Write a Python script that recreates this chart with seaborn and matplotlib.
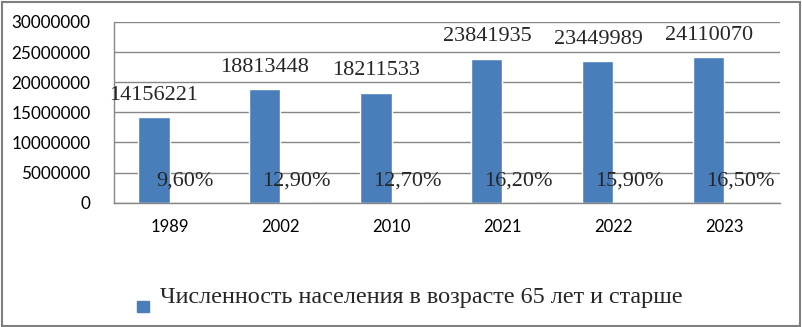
import matplotlib
matplotlib.use("Agg")
import matplotlib.pyplot as plt
import matplotlib.patches as mpatches
import seaborn as sns
import pandas as pd

years = ["1989", "2002", "2010", "2021", "2022", "2023"]
population = [14156221, 18813448, 18211533, 23841935, 23449989, 24110070]
share_pct = [9.60, 12.90, 12.70, 16.20, 15.90, 16.50]
share_labels = ["9,60%", "12,90%", "12,70%", "16,20%", "15,90%", "16,50%"]
legend_label = "Численность населения в возрасте 65 лет и старше"
yticks = [0, 5000000, 10000000, 15000000, 20000000, 25000000, 30000000]

sns.set_style("white")
plt.rcParams["font.family"] = ["Lato", "DejaVu Sans"]

df = pd.DataFrame({
    "year": years * 2,
    "series": ["pop"] * len(years) + ["share"] * len(years),
    "value": population + [s / 100 for s in share_pct],
})

fig = plt.figure(figsize=(8.03, 3.27), dpi=100)
ax = fig.add_axes([114 / 803, 1 - 202.7 / 327, 666 / 803, (202.7 - 22) / 327])

blue = "#4A7EBB"
sns.barplot(data=df, x="year", y="value", hue="series", palette=[blue, blue],
            width=0.56, legend=False, ax=ax, saturation=1)

gray = "#868686"
ax.set_xlim(-0.5, len(years) - 0.5)
ax.set_ylim(0, 30000000)
ax.set_yticks(yticks)
ax.set_yticklabels([str(v) for v in yticks], fontsize=12.3, color="#000000")
ax.set_xticks(range(len(years)))
ax.set_xticklabels(years, fontsize=12, color="#000000")
ax.set_xticks([i - 0.5 for i in range(len(years) + 1)], minor=True)
ax.tick_params(axis="x", which="major", length=0, pad=12)
ax.tick_params(axis="x", which="minor", length=5, color=gray, width=1)
ax.tick_params(axis="y", length=5, color=gray, width=1, pad=12)
ax.set_xlabel("")
ax.set_ylabel("")
ax.grid(axis="y", color=gray, linewidth=1)
ax.set_axisbelow(True)
for s in ["top", "right"]:
    ax.spines[s].set_visible(False)
for s in ["left", "bottom"]:
    ax.spines[s].set_color(gray)
    ax.spines[s].set_linewidth(1)

serif = ["Liberation Serif", "DejaVu Serif"]
for bar, v in zip(ax.containers[0], population):
    ax.annotate(str(v), (bar.get_x() + bar.get_width() / 2, bar.get_height()),
                xytext=(0, 16), textcoords="offset points", ha="center", va="center",
                fontsize=16, family=serif)
for bar, lab in zip(ax.containers[1], share_labels):
    ax.annotate(lab, (bar.get_x() + bar.get_width() / 2, bar.get_height()),
                xytext=(0, 15.5), textcoords="offset points", ha="center", va="center",
                fontsize=16, family=serif)

# legend
fig.patches.append(mpatches.Rectangle((137 / 803, 1 - 312 / 327), 12 / 803, 11 / 327,
                                      transform=fig.transFigure, color=blue))
fig.text(160 / 803, 1 - 297 / 327, legend_label, fontsize=17.4, family=serif,
         ha="left", va="center")

# border
fig.patches.append(mpatches.Rectangle((0.002, 0.004), 0.994, 0.991, transform=fig.transFigure,
                                      fill=False, edgecolor="#7f7f7f", linewidth=1.5))

fig.savefig("out.png", dpi=100)
